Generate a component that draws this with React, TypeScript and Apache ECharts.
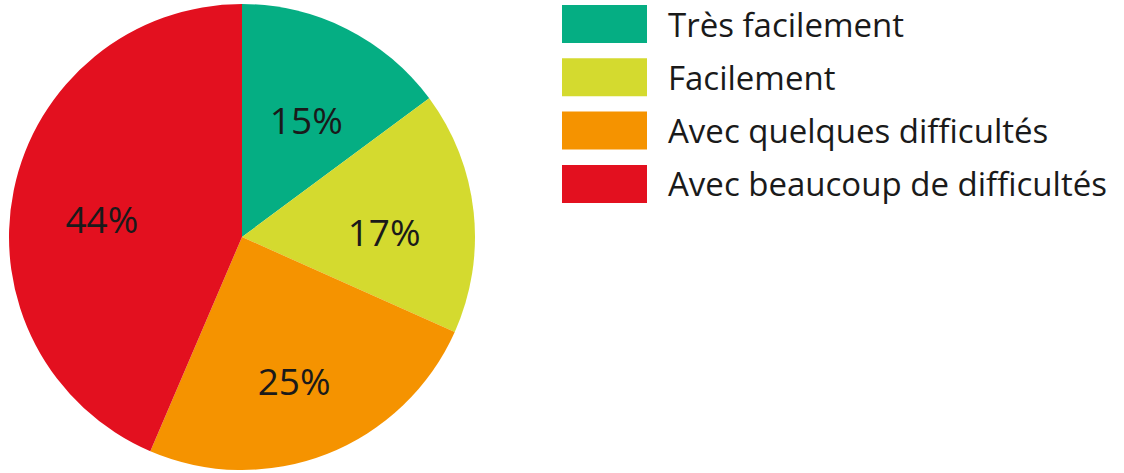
import React, { useEffect, useRef } from "react";
import * as echarts from "echarts";

const categories = [
  "Très facilement",
  "Facilement",
  "Avec quelques difficultés",
  "Avec beaucoup de difficultés",
];
const values = [15, 17, 25, 44];
const colors = ["#05AE83", "#D4DA2F", "#F59300", "#E3101F"];

export default function App() {
  const ref = useRef<HTMLDivElement>(null);
  useEffect(() => {
    document.body.style.margin = "0";
    const chart = echarts.init(ref.current!, undefined, { renderer: "svg" });
    const data = categories.map((name, i) => ({
      name,
      value: values[i],
      itemStyle: { color: colors[i] },
    }));
    const font = "'Open Sans', sans-serif";
    chart.setOption({
      animation: false,
      legend: {
        orient: "vertical",
        left: 562,
        top: 5,
        padding: 0,
        itemWidth: 85,
        itemHeight: 38,
        itemGap: 15.3,
        icon: "rect",
        selectedMode: false,
        data: categories,
        textStyle: {
          fontSize: 33,
          fontFamily: font,
          color: "#1a1a1a",
          padding: [0, 0, 0, 16],
        },
      },
      series: [
        {
          type: "pie",
          center: [242, 237],
          radius: [0, 233],
          startAngle: 90,
          clockwise: true,
          silent: true,
          label: { show: false },
          labelLine: { show: false },
          data,
        },
        {
          type: "pie",
          center: [242, 237],
          radius: [93, 187],
          startAngle: 90,
          clockwise: true,
          silent: true,
          itemStyle: { color: "transparent", borderWidth: 0 },
          label: {
            show: true,
            position: "inside",
            formatter: "{c}%",
            fontSize: 37,
            fontFamily: font,
            color: "#1a1a1a",
            offset: [0, 10],
          },
          labelLine: { show: false },
          data: categories.map((name, i) => ({
            name,
            value: values[i],
            itemStyle: { color: "transparent" },
          })),
        },
      ],
    });
    return () => chart.dispose();
  }, []);
  return <div ref={ref} style={{ width: 1124, height: 473 }} />;
}
